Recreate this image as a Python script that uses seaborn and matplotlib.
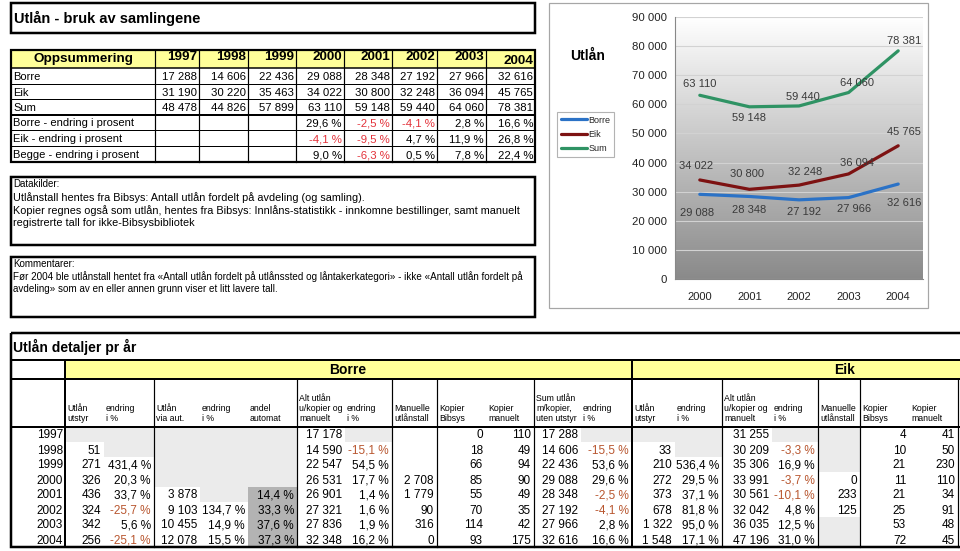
import numpy as np
import pandas as pd
import matplotlib
matplotlib.use('Agg')
import matplotlib.pyplot as plt
from matplotlib.patches import Rectangle
from matplotlib.lines import Line2D
from matplotlib.colors import LinearSegmentedColormap
import seaborn as sns

# ---------------- data ----------------
years = [1997, 1998, 1999, 2000, 2001, 2002, 2003, 2004]

# Oppsummering
sum_borre = [17288, 14606, 22436, 29088, 28348, 27192, 27966, 32616]
sum_eik = [31190, 30220, 35463, 34022, 30800, 32248, 36094, 45765]
sum_total = [48478, 44826, 57899, 63110, 59148, 59440, 64060, 78381]
pct_borre = [None, None, None, 29.6, -2.5, -4.1, 2.8, 16.6]
pct_eik = [None, None, None, -4.1, -9.5, 4.7, 11.9, 26.8]
pct_begge = [None, None, None, 9.0, -6.3, 0.5, 7.8, 22.4]

# chart (2000-2004)
chart_years = [2000, 2001, 2002, 2003, 2004]
chart_series = ['Borre', 'Eik', 'Sum']

# Utlån detaljer pr år - Borre
borre_utstyr = [None, 51, 271, 326, 436, 324, 342, 256]
borre_utstyr_endr = [None, None, 431.4, 20.3, 33.7, -25.7, 5.6, -25.1]
borre_aut = [None, None, None, None, 3878, 9103, 10455, 12078]
borre_aut_endr = [None, None, None, None, None, 134.7, 14.9, 15.5]
borre_andel = [None, None, None, None, 14.4, 33.3, 37.6, 37.3]
borre_alt = [17178, 14590, 22547, 26531, 26901, 27321, 27836, 32348]
borre_alt_endr = [None, -15.1, 54.5, 17.7, 1.4, 1.6, 1.9, 16.2]
borre_manuelle = [None, None, None, 2708, 1779, 90, 316, 0]
borre_kop_bibsys = [0, 18, 66, 85, 55, 70, 114, 93]
borre_kop_man = [110, 49, 94, 90, 49, 35, 42, 175]
borre_sum = [17288, 14606, 22436, 29088, 28348, 27192, 27966, 32616]
borre_sum_endr = [None, -15.5, 53.6, 29.6, -2.5, -4.1, 2.8, 16.6]

# Utlån detaljer pr år - Eik
eik_utstyr = [None, 33, 210, 272, 373, 678, 1322, 1548]
eik_utstyr_endr = [None, None, 536.4, 29.5, 37.1, 81.8, 95.0, 17.1]
eik_alt = [31255, 30209, 35306, 33991, 30561, 32042, 36035, 47196]
eik_alt_endr = [None, -3.3, 16.9, -3.7, -10.1, 4.8, 12.5, 31.0]
eik_manuelle = [None, None, None, 0, 233, 125, None, None]
eik_kop_bibsys = [4, 10, 21, 11, 21, 25, 53, 72]
eik_kop_man = [41, 50, 230, 110, 34, 91, 48, 45]

col_headers = ['Utlån\nutstyr', 'endring\ni %', 'Utlån\nvia aut.', 'endring\ni %', 'andel\nautomat',
               'Alt utlån\nu/kopier og\nmanuelt', 'endring\ni %', 'Manuelle\nutlånstall',
               'Kopier\nBibsys', 'Kopier\nmanuelt', 'Sum utlån\nm/kopier,\nuten utstyr', 'endring\ni %',
               'Utlån\nutstyr', 'endring\ni %', 'Alt utlån\nu/kopier og\nmanuelt', 'endring\ni %',
               'Manuelle\nutlånstall', 'Kopier\nBibsys', 'Kopier\nmanuelt']
col_values = [borre_utstyr, borre_utstyr_endr, borre_aut, borre_aut_endr, borre_andel,
              borre_alt, borre_alt_endr, borre_manuelle, borre_kop_bibsys, borre_kop_man,
              borre_sum, borre_sum_endr,
              eik_utstyr, eik_utstyr_endr, eik_alt, eik_alt_endr, eik_manuelle,
              eik_kop_bibsys, eik_kop_man]
col_is_pct = [False, True, False, True, True, False, True, False, False, False, False, True,
              False, True, False, True, False, False, False]


def fmt_num(v):
    return f"{v:,}".replace(',', ' ')


def fmt_pct(v):
    return f"{v:.1f} %".replace('.', ',')


# ---------------- styling ----------------
sns.set_theme(style='white')
plt.rcParams['font.family'] = ['Liberation Sans', 'DejaVu Sans']

W, H = 960, 551
PX = 0.72  # points per pixel at 100 dpi
fig = plt.figure(figsize=(9.6, 5.51), dpi=100)
bg = fig.add_axes([0, 0, 1, 1])
bg.set_xlim(0, W)
bg.set_ylim(H, 0)
bg.axis('off')

YELLOW = '#ffff99'
LIGHT = '#ebebeb'
DARK = '#b3b3b3'


def rect(x0, y0, x1, y1, fc='none', ec='black', lw=1.0, z=1):
    bg.add_patch(Rectangle((x0, y0), x1 - x0, y1 - y0, facecolor=fc, edgecolor=ec,
                           linewidth=lw * PX, zorder=z))


def hline(y, x0, x1, lw=1.0):
    bg.plot([x0, x1], [y, y], color='black', lw=lw * PX, solid_capstyle='projecting', zorder=3)


def vline(x, y0, y1, lw=1.0):
    bg.plot([x, x], [y0, y1], color='black', lw=lw * PX, solid_capstyle='projecting', zorder=3)


def txt(x, y, s, size, ha='left', va='center', color='black', bold=False, **kw):
    bg.text(x, y, s, fontsize=size, ha=ha, va=va, color=color,
            fontweight='bold' if bold else 'normal', zorder=4, **kw)


# ---------------- title box ----------------
rect(11, 3, 535, 33, lw=2.5)
txt(14, 18, 'Utlån - bruk av samlingene', 10.5, bold=True)

# ---------------- Oppsummering ----------------
tx = [11, 155, 199, 248, 296, 344, 392, 437, 486, 535]
ty = [50, 68, 84, 99, 115, 130, 146, 162]
rect(11, 50, 535, 68, fc=YELLOW, ec='none', z=0)
for x in tx[1:-1]:
    vline(x, 50, 162, 1.2)
for y, lw in zip(ty[1:-1], [1.5, 1, 1, 2, 1, 1]):
    hline(y, 11, 535, lw)
rect(11, 50, 535, 162, lw=2.2, z=3)
txt((tx[0] + tx[1]) / 2, 59, 'Oppsummering', 9.7, ha='center', bold=True)
for i, yr in enumerate(years):
    txt(tx[i + 2] - 2, 61 if yr == 2004 else 57, str(yr), 9.7, ha='right', bold=True)

rows = [('Borre', sum_borre, False), ('Eik', sum_eik, False), ('Sum', sum_total, False),
        ('Borre - endring i prosent', pct_borre, True),
        ('Eik - endring i prosent', pct_eik, True),
        ('Begge - endring i prosent', pct_begge, True)]
for r, (label, vals, is_pct) in enumerate(rows):
    yc = (ty[r + 1] + ty[r + 2]) / 2 + 1
    txt(13, yc, label, 8)
    for i, v in enumerate(vals):
        if v is None:
            continue
        s = fmt_pct(v) if is_pct else fmt_num(v)
        c = '#e3323a' if (is_pct and v < 0) else 'black'
        txt(tx[i + 2] - 2, yc, s, 8.2, ha='right', color=c)

# ---------------- text boxes ----------------
rect(11, 177, 535, 245, lw=2.5)
txt(13, 184, 'Datakilder:', 7)
txt(13, 198, 'Utlånstall hentes fra Bibsys: Antall utlån fordelt på avdeling (og samling).', 7.8)
txt(13, 211, 'Kopier regnes også som utlån, hentes fra Bibsys: Innlåns-statistikk - innkomne '
             'bestillinger, samt manuelt', 7.8)
txt(13, 223, 'registrerte tall for ikke-Bibsysbibliotek', 7.8)

rect(11, 257, 535, 317, lw=2.5)
txt(13, 264, 'Kommentarer:', 7)
txt(13, 277, 'Før 2004 ble utlånstall hentet fra «Antall utlån fordelt på utlånssted og '
             'låntakerkategori» - ikke «Antall utlån fordelt på', 7.1)
txt(13, 289, 'avdeling» som av en eller annen grunn viser et litt lavere tall.', 7.1)

# ---------------- chart ----------------
rect(549, 3, 928, 308, ec='#a6a6a6', lw=1.2, fc='white', z=0)
txt(588, 56, 'Utlån', 10, ha='center', bold=True)

df = pd.DataFrame({
    'År': chart_years * 3,
    'Utlån': sum_borre[3:] + sum_eik[3:] + sum_total[3:],
    'Serie': ['Borre'] * 5 + ['Eik'] * 5 + ['Sum'] * 5,
})
palette = {'Borre': '#2b72c6', 'Eik': '#7d1212', 'Sum': '#2f9364'}

ax = fig.add_axes([675 / W, 1 - 279 / H, (923 - 675) / W, (279 - 17) / H])
ax.set_xlim(1999.5, 2004.5)
ax.set_ylim(0, 90000)
cmap = LinearSegmentedColormap.from_list('grad', ['#8a8a8a', '#c4c4c4', '#ffffff'])
ax.imshow(np.linspace(0, 1, 256)[:, None], extent=[1999.5, 2004.5, 0, 90000], origin='lower',
          aspect='auto', cmap=cmap, zorder=0)
ax.set_axisbelow(True)
ax.yaxis.grid(True, color='#d2d2d2', lw=0.8)

sns.lineplot(data=df, x='År', y='Utlån', hue='Serie', palette=palette, lw=2.3,
             legend=False, ax=ax, zorder=3)
ax.set_xlim(1999.5, 2004.5)
ax.set_ylim(0, 90000)
ax.set_xlabel('')
ax.set_ylabel('')

# data labels (offsets in px: dx right, dy down)
label_offsets = {
    'Borre': [(-3, 19), (0, 14), (5, 12), (5, 11), (6, 19)],
    'Eik': [(-4, -14), (-2, -15), (6, -13), (8, -11), (6, -14)],
    'Sum': [(0, -11), (0, 11), (4, -9), (8, -10), (6, -10)],
}
for name, vals in zip(chart_series, [sum_borre[3:], sum_eik[3:], sum_total[3:]]):
    for (yr, v), (dx, dy) in zip(zip(chart_years, vals), label_offsets[name]):
        ax.annotate(fmt_num(v), (yr, v), xytext=(dx * PX, -dy * PX), textcoords='offset points',
                    ha='center', va='center', fontsize=8, color='#3a3a3a', zorder=5)

ax.set_xticks(chart_years)
ax.set_xticklabels([str(y) for y in chart_years])
ax.set_xticks(np.arange(1999.5, 2005, 1), minor=True)
ax.tick_params(axis='x', which='major', length=0, pad=9, labelsize=8, labelcolor='#222222')
ax.tick_params(axis='x', which='minor', length=4, width=0.8, color='#888888', direction='out')
ax.set_yticks(range(0, 90001, 10000))
ax.set_yticklabels([fmt_num(v) for v in range(0, 90001, 10000)])
ax.tick_params(axis='y', length=4, width=0.8, color='#888888', direction='out', pad=2,
               labelsize=8.2, labelcolor='#222222')
for s in ['top', 'right']:
    ax.spines[s].set_visible(False)
for s in ['left', 'bottom']:
    ax.spines[s].set_color('#888888')
    ax.spines[s].set_linewidth(0.8)

handles = [Line2D([], [], color=palette[n], lw=2.3) for n in chart_series]
leg = ax.legend(handles, chart_series, loc='upper left', bbox_to_anchor=(557 / W, 1 - 112 / H),
                bbox_transform=fig.transFigure, frameon=True, fancybox=False, fontsize=6.5,
                handlelength=2.9, handletextpad=0.2, borderpad=0.4, labelspacing=0.6,
                borderaxespad=0)
leg.get_frame().set_edgecolor('#a0a0a0')
leg.get_frame().set_linewidth(0.8)

# ---------------- Utlån detaljer pr år ----------------
cb = [65, 104, 154, 200, 248, 297, 345, 392, 437, 486, 534, 581, 632, 675, 722, 772, 818,
      860, 909, 958]
row_top = 427
row_h = 15

# shading (column index -> rows)
light_cells = {0: [0], 1: [0, 1], 2: [0, 1, 2, 3], 3: [0, 1, 2, 3, 4], 4: [0, 1, 2, 3],
               6: [0], 11: [0], 12: [0], 13: [0, 1], 15: [0], 16: [0, 1, 2, 6, 7]}
dark_cells = {4: [4, 5, 6, 7]}
for cells, color in [(light_cells, LIGHT), (dark_cells, DARK)]:
    for j, rws in cells.items():
        for r in rws:
            rect(cb[j], row_top + r * row_h, cb[j + 1], row_top + (r + 1) * row_h,
                 fc=color, ec='none', z=0)

rect(65, 360, 1070, 379, fc=YELLOW, ec='none', z=0)
rect(11, 333, 1070, 547, lw=2.5, z=3)
hline(360, 11, 1070, 2)
hline(379, 11, 1070, 2)
hline(427, 11, 1070, 2)
vline(65, 360, 547, 2)
vline(632, 360, 547, 2)
for j in [2, 5, 7, 8, 10, 14, 16, 17, 19]:
    vline(cb[j], 379, 547, 1.2)

txt(13, 347, 'Utlån detaljer pr år', 10, bold=True)
txt(348, 370, 'Borre', 10, ha='center', bold=True)
txt(845, 370, 'Eik', 10, ha='center', bold=True)

for j, head in enumerate(col_headers):
    txt(cb[j] + 2, 423, head, 6.3, va='bottom', linespacing=1.15)

for r, yr in enumerate(years):
    yc = row_top + r * row_h + 8.5
    txt(63, yc, str(yr), 8.5, ha='right')
    for j, vals in enumerate(col_values):
        v = vals[r]
        if v is None:
            continue
        if col_is_pct[j]:
            s = fmt_pct(v)
            c = '#b8562f' if v < 0 else 'black'
        else:
            s = fmt_num(v)
            c = 'black'
        txt(cb[j + 1] - 3, yc, s, 8.5, ha='right', color=c)

fig.savefig('out.png', dpi=100)
